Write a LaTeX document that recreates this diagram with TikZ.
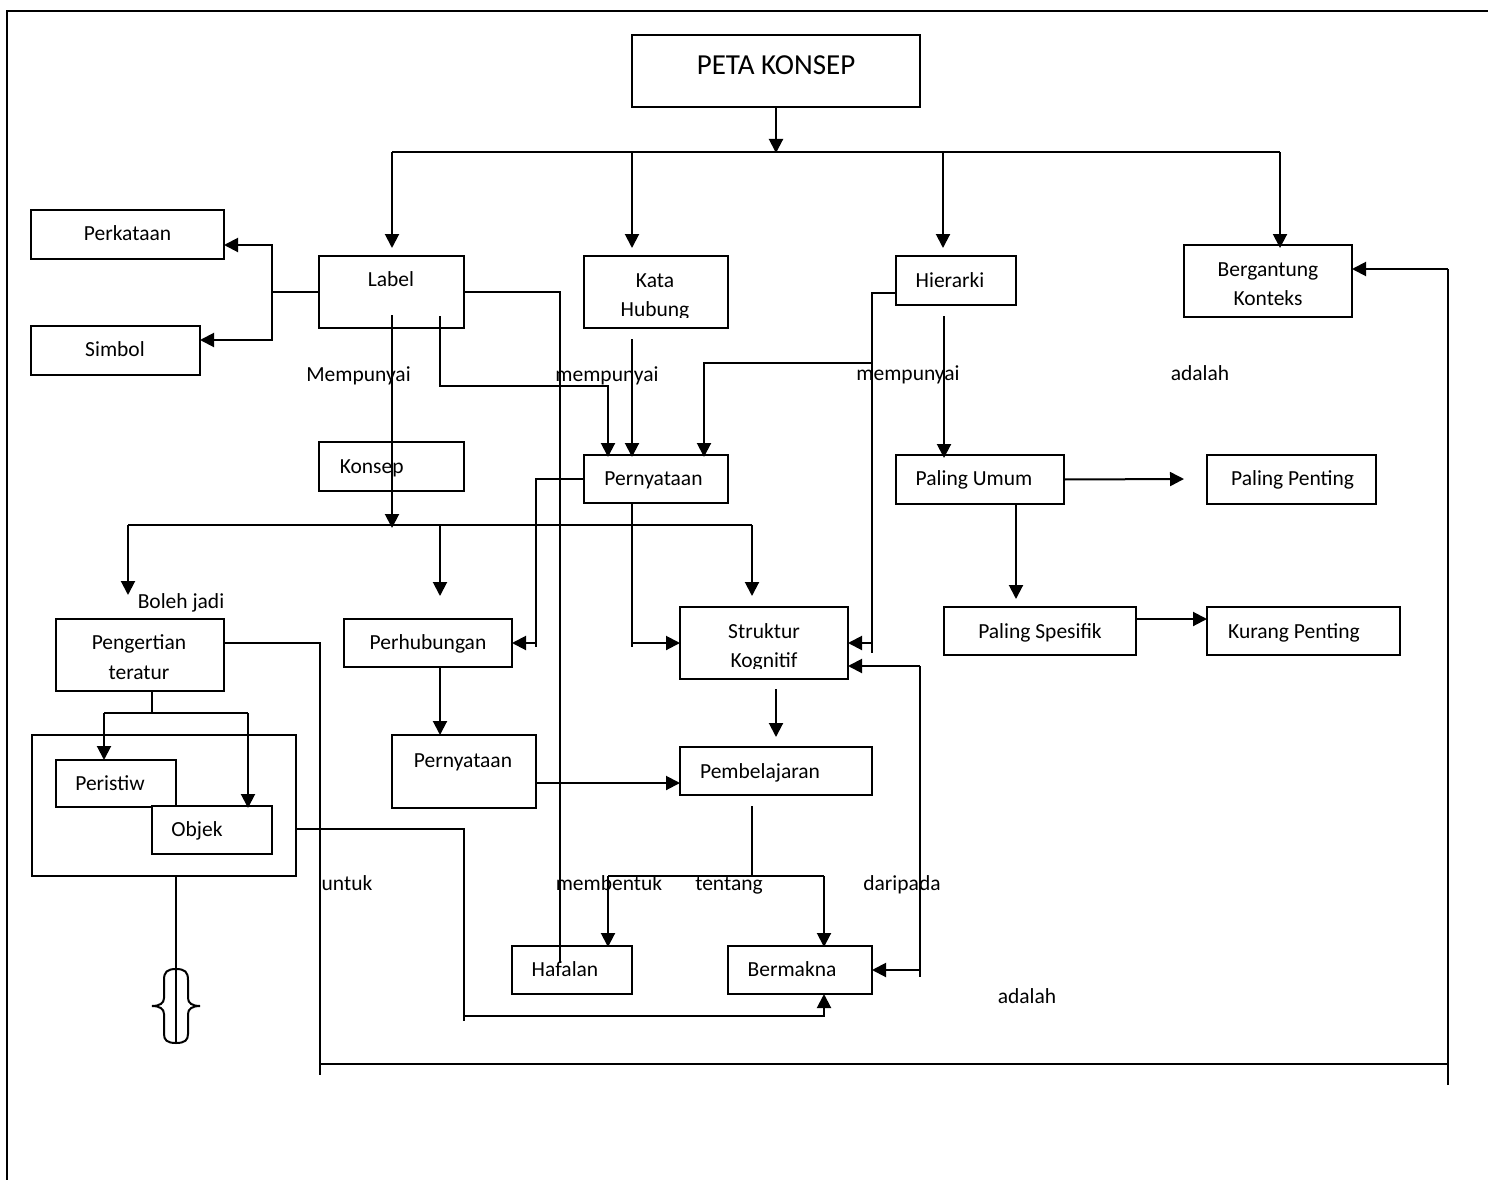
\documentclass[tikz,border=0pt]{standalone}
\usepackage{fontspec}
\setmainfont{Carlito}
\usetikzlibrary{arrows.meta}
\newcommand\mkbox[5]{\node[box,minimum width={#4-#2},minimum height={#5-#3}] (#1) at ({(#2+#4)/2},{(#3+#5)/2}) {};}
\begin{document}
\begin{tikzpicture}[x=1pt,y=-1pt,
  box/.style={draw,line width=2pt,inner sep=0pt,outer sep=0pt},
  txt/.style={inner sep=0pt,font=\fontsize{21.5}{25}\selectfont,text height=13pt,text depth=0pt},
  ln/.style={line width=2pt},
  arr/.style={line width=2pt,-{Triangle[length=14pt,width=14pt]}}]
\useasboundingbox (0,0) rectangle (1488,1180);
\fill[white] (0,0) rectangle (1488,1180);
\draw[line width=2.5pt] (7,1180) -- (7,11) -- (1488,11);

% boxes
\mkbox{peta}{632}{35}{920}{107}
\mkbox{perkataan}{31}{210}{224}{259}
\mkbox{simbol}{31}{326}{200}{375}
\mkbox{label}{319}{256}{464}{328}
\mkbox{kata}{584}{256}{728}{328}
\mkbox{hier}{896}{256}{1016}{305}
\mkbox{berg}{1184}{245}{1352}{317}
\mkbox{konsep}{319}{442}{464}{491}
\mkbox{pern1}{584}{455}{728}{503}
\mkbox{umum}{896}{455}{1064}{504}
\mkbox{penting}{1207}{455}{1376}{504}
\mkbox{peng}{56}{619}{224}{691}
\mkbox{perhub}{344}{619}{512}{667}
\mkbox{struktur}{680}{607}{848}{679}
\mkbox{spes}{944}{607}{1136}{655}
\mkbox{kurang}{1207}{607}{1400}{655}
\mkbox{outer}{32}{735}{296}{876}
\mkbox{peristiw}{56}{760}{176}{807}
\node[box,fill=white,minimum width=120,minimum height=48] (objek) at (212,830) {};
\mkbox{pern2}{392}{735}{536}{808}
\mkbox{pembel}{680}{747}{872}{795}
\mkbox{hafalan}{512}{946}{632}{994}
\mkbox{bermakna}{728}{946}{872}{994}

% top tree
\draw[arr] (peta.south) -- (776,153);
\draw[ln] (392,152) -- (1280,152);
\draw[arr] (392,152) -- (392,248);
\draw[arr] (632,152) -- (632,248);
\draw[arr] (943,152) -- (943,248);
\draw[arr] (1280,152) -- (1280,248);

% label
\draw[ln] (label.west) -- (272,292);
\draw[arr] (272,292) |- (perkataan.east |- 0,245);
\draw[arr] (272,292) |- (simbol.east |- 0,340);
\draw[ln] (label.east) -| (560,963);
\draw[arr] (440,316) |- (608,386) -- (608,457);
\draw[arr] (392,315) -- (392,528);

% kata hubung
\draw[arr] (632,339) -- (632,457);

% hierarki
\draw[ln] (hier.west |- 0,293) -| (872,653);
\draw[arr] (872,643) -- (struktur.east |- 0,643);
\draw[arr] (872,363) -| (704,457);
\draw[arr] (944,316) -- (944,458);

% konsep bar
\draw[ln] (128,525) -- (752,525);
\draw[arr] (128,525) -- (128,595);
\draw[arr] (440,525) -- (440,596);
\draw[arr] (752,525) -- (752,596);

% pernyataan 1
\draw[ln] (pern1.west) -| (536,647);
\draw[arr] (536,643) -- (perhub.east |- 0,643);
\draw[ln] (632,503) -- (632,647);
\draw[arr] (632,643) -- (struktur.west |- 0,643);

% struktur
\draw[arr] (776,689) -- (776,737);
\draw[arr] (920,666) -- (struktur.east |- 0,666);
\draw[ln] (920,666) -- (920,977);
\draw[arr] (920,970) -- (bermakna.east);

% pengertian
\draw[ln] (peng.east |- 0,643) -| (320,1075);
\draw[ln] (320,1064) -- (1448,1064);
\draw[ln] (1448,1085) -- (1448,269);
\draw[arr] (1448,269) -- (berg.east |- 0,269);
\draw[ln] (152,691) -- (152,713);
\draw[ln] (104,713) -- (248,713);
\draw[arr] (104,713) -- (104,760);
\draw[arr] (248,713) -- (248,808);

% outer box
\draw[ln] (outer.east |- 0,829) -| (464,1021);
\draw[arr] (464,1016) -| (824,994);

% brace
\draw[ln] (176,876) -- (176,1043);
\draw[ln] (176,969) .. controls (167,969) and (164,972) .. (164,980) -- (164,998) .. controls (164,1003) and (160,1006) .. (152,1006) .. controls (160,1006) and (164,1009) .. (164,1014) -- (164,1034) .. controls (164,1040) and (167,1043) .. (176,1043);
\draw[ln] (176,969) .. controls (185,969) and (188,972) .. (188,980) -- (188,998) .. controls (188,1003) and (192,1006) .. (200,1006) .. controls (192,1006) and (188,1009) .. (188,1014) -- (188,1034) .. controls (188,1040) and (185,1043) .. (176,1043);

% perhubungan / pernyataan 2 / pembelajaran
\draw[arr] (440,667) -- (440,735);
\draw[arr] (536,783) -- (pembel.west |- 0,783);
\draw[ln] (752,806) -- (752,877);
\draw[ln] (608,876) -- (824,876);
\draw[arr] (608,876) -- (608,947);
\draw[arr] (824,876) -- (824,947);

% right side
\draw[arr] (umum.east) -- (1184,479);
\draw[arr] (1016,504) -- (1016,599);
\draw[arr] (spes.east |- 0,619) -- (kurang.west |- 0,619);

% texts in boxes
\node[txt,font=\fontsize{29}{34}\selectfont,text height=19pt] (tpeta) at (776,65) {PETA KONSEP};
\node[txt] (tperk) at (127.5,234) {Perkataan};
\node[txt] (tsimb) at (115,350) {Simbol};
\node[txt] (tlab) at (391,280) {Label};
\node[txt] (tkata) at (655,281) {Kata};
\begin{scope}
\clip (584,256) rectangle (728,317);
\node[txt] (thub) at (655,310) {Hubung};
\end{scope}
\node[txt] (thier) at (950,281) {Hierarki};
\node[txt] (tberg1) at (1268,270) {Bergantung};
\node[txt] (tberg2) at (1268,299) {Konteks};
\node[txt] (tkons) at (371.7,467) {Konsep};
\node[txt] (tpern1) at (653.5,479) {Pernyataan};
\node[txt] (tumum) at (974,479) {Paling Umum};
\node[txt] (tpent) at (1292.6,479) {Paling Penting};
\node[txt] (tpeng1) at (139,643) {Pengertian};
\node[txt] (tpeng2) at (139,673) {teratur};
\node[txt] (tperhub) at (428,643) {Perhubungan};
\node[txt] (tstr1) at (764,632) {Struktur};
\begin{scope}
\clip (680,607) rectangle (848,668);
\node[txt] (tstr2) at (764,661) {Kognitif};
\end{scope}
\node[txt] (tspes) at (1040,632) {Paling Spesifik};
\node[txt] (tkur) at (1294,632) {Kurang Penting};
\node[txt] (tperi) at (110,784) {Peristiw};
\node[txt] (tobj) at (197,830) {Objek};
\node[txt] (tpern2) at (463,761) {Pernyataan};
\node[txt] (tpemb) at (760,772) {Pembelajaran};
\node[txt] (thaf) at (565,970) {Hafalan};
\node[txt] (tberm) at (792,970) {Bermakna};

% link words
\node[txt] (w1) at (358.5,375) {Mempunyai};
\node[txt] (w2) at (607,375) {mempunyai};
\node[txt] (w3) at (908,374) {mempunyai};
\node[txt] (w4) at (1200,374) {adalah};
\node[txt] (w5) at (181,602) {Boleh jadi};
\node[txt] (w6) at (347,884) {untuk};
\node[txt] (w7) at (609,884) {membentuk};
\node[txt] (w8) at (729,884) {tentang};
\node[txt] (w9) at (902,884) {daripada};
\node[txt] (w10) at (1027,997) {adalah};
\end{tikzpicture}
\end{document}
